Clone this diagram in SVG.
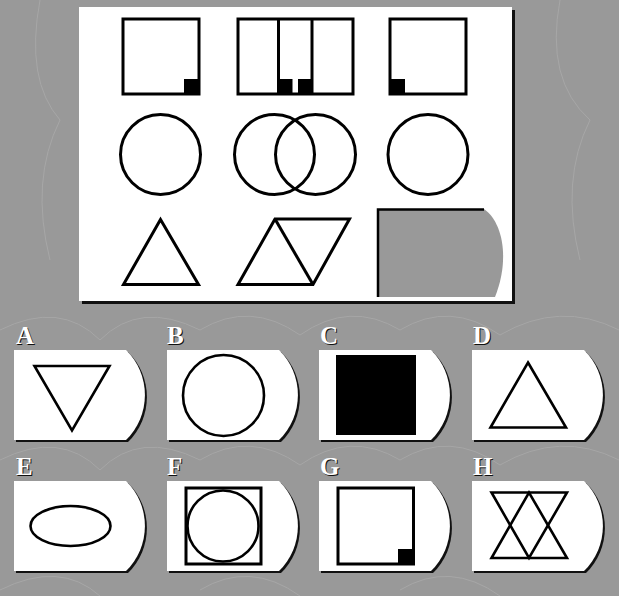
<svg xmlns="http://www.w3.org/2000/svg" width="619" height="596" viewBox="0 0 619 596">
<defs>
<style>
.s{fill:none;stroke:#000;stroke-width:3;stroke-linejoin:miter}
.t{fill:none;stroke:#000;stroke-width:2.6;stroke-linejoin:miter}
.k{fill:#000}
.lab{font-family:"Liberation Serif","Times New Roman",serif;font-weight:bold;font-size:25px}
.lw{fill:#fff}
.lb{fill:#111}
</style>
<path id="card" d="M0,0 H112 A63,63 0 0 1 112,90 H0 Z"/>
</defs>
<rect width="619" height="596" fill="#999"/>
<g fill="none" stroke="#aaa" stroke-width="1" opacity="0.8">
<path d="M0,330 Q60,300 100,340 Q140,300 200,330 Q250,300 300,335 Q350,300 400,330 Q450,300 500,335 Q560,300 619,330"/>
<path d="M0,460 Q60,430 100,470 Q140,430 200,460 Q250,430 300,465 Q350,430 400,460 Q450,430 500,465 Q560,430 619,460"/>
<path d="M0,590 Q60,560 100,596 M200,590 Q250,560 300,596 M400,590 Q450,560 500,596"/>
<path d="M560,0 Q545,80 590,120 Q560,180 580,260 M40,0 Q25,80 60,120 Q30,180 50,260"/>
</g>
<g id="panel">
<rect x="82" y="10" width="433" height="294" fill="#111"/>
<rect x="79" y="7" width="433" height="294" fill="#fff"/>
</g>
<g id="row1">
<rect class="s" x="123" y="19" width="76" height="75"/>
<rect class="k" x="184" y="79" width="15" height="15"/>
<rect class="s" x="238" y="19" width="115" height="75"/>
<line class="s" x1="278.5" y1="19" x2="278.5" y2="94"/>
<line class="s" x1="312" y1="19" x2="312" y2="94"/>
<rect class="k" x="277.5" y="79" width="15" height="15"/>
<rect class="k" x="298" y="79" width="15" height="15"/>
<rect class="s" x="390" y="19" width="76" height="75"/>
<rect class="k" x="390" y="79" width="15" height="15"/>
</g>
<g id="row2">
<circle class="s" cx="160.5" cy="154.5" r="40"/>
<circle class="s" cx="274.5" cy="154.5" r="40"/>
<circle class="s" cx="315.5" cy="154.5" r="40"/>
<circle class="s" cx="428" cy="154.5" r="40"/>
</g>
<g id="row3">
<polygon class="s" points="160.5,219.5 198.5,284.5 123.5,284.5"/>
<polygon class="s" points="238,284.5 275,219 349.5,219 313,284.5"/>
<line class="s" x1="275" y1="219" x2="313" y2="284.5"/>
<g id="missing">
<path d="M378,209 H484 C503,222 510,260 495,297 H378 Z" fill="#999"/>
<path d="M378,297 V209.5 H484" fill="none" stroke="#000" stroke-width="2.5"/>
</g>
</g>
<g id="optA">
<use href="#card" x="16" y="352" fill="#111"/>
<use href="#card" x="14" y="350" fill="#fff"/>
<polygon class="t" points="34.5,366 109.5,366 72,430.5"/>
<text class="lab lb" x="17" y="345">A</text><text class="lab lw" x="16" y="344">A</text>
</g>
<g id="optB">
<use href="#card" x="169" y="352" fill="#111"/>
<use href="#card" x="167" y="350" fill="#fff"/>
<circle class="t" cx="223.5" cy="395.5" r="40.5"/>
<text class="lab lb" x="168" y="345">B</text><text class="lab lw" x="167" y="344">B</text>
</g>
<g id="optC">
<use href="#card" x="321" y="352" fill="#111"/>
<use href="#card" x="319" y="350" fill="#fff"/>
<rect class="k" x="336" y="355" width="80" height="80"/>
<text class="lab lb" x="321" y="345">C</text><text class="lab lw" x="320" y="344">C</text>
</g>
<g id="optD">
<use href="#card" x="474" y="352" fill="#111"/>
<use href="#card" x="472" y="350" fill="#fff"/>
<polygon class="t" points="528,362.5 566,427.5 490.5,427.5"/>
<text class="lab lb" x="474" y="345">D</text><text class="lab lw" x="473" y="344">D</text>
</g>
<g id="optE">
<use href="#card" x="16" y="483" fill="#111"/>
<use href="#card" x="14" y="481" fill="#fff"/>
<ellipse class="t" cx="70.5" cy="526" rx="40" ry="20"/>
<text class="lab lb" x="17" y="476">E</text><text class="lab lw" x="16" y="475">E</text>
</g>
<g id="optF">
<use href="#card" x="169" y="483" fill="#111"/>
<use href="#card" x="167" y="481" fill="#fff"/>
<rect class="s" x="186" y="488" width="75" height="76"/>
<circle class="t" cx="223" cy="526" r="35.5"/>
<text class="lab lb" x="168" y="476">F</text><text class="lab lw" x="167" y="475">F</text>
</g>
<g id="optG">
<use href="#card" x="321" y="483" fill="#111"/>
<use href="#card" x="319" y="481" fill="#fff"/>
<rect class="s" x="338" y="488" width="75.5" height="76"/>
<rect class="k" x="398" y="549" width="15.5" height="15"/>
<text class="lab lb" x="321" y="476">G</text><text class="lab lw" x="320" y="475">G</text>
</g>
<g id="optH">
<use href="#card" x="474" y="483" fill="#111"/>
<use href="#card" x="472" y="481" fill="#fff"/>
<polygon class="t" points="491.5,492.5 567,492.5 529,558"/>
<polygon class="t" points="491.5,558 567,558 529,492.5"/>
<text class="lab lb" x="474" y="476">H</text><text class="lab lw" x="473" y="475">H</text>
</g>
</svg>
